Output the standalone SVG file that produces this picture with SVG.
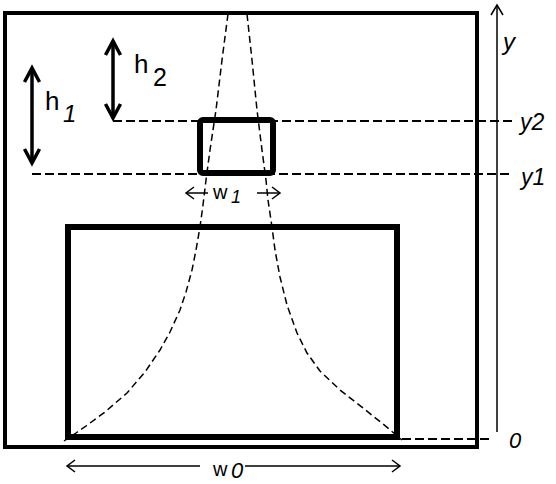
<svg xmlns="http://www.w3.org/2000/svg" width="556" height="484" viewBox="0 0 556 484">
<style>
.frame{fill:none;stroke:#000;stroke-width:4}
.box{fill:none;stroke:#000;stroke-width:6}
.hd{fill:none;stroke:#000;stroke-width:2;stroke-dasharray:9 4}
.cv{fill:none;stroke:#000;stroke-width:1.5;stroke-dasharray:7 4}
.thin{fill:none;stroke:#000;stroke-width:1.5}
.thick{fill:none;stroke:#000;stroke-width:3.5;stroke-linejoin:miter}
text{font-family:"Liberation Sans",Arial,sans-serif;fill:#000}
.it{font-style:italic}
</style>
<rect width="556" height="484" fill="#fff"/>
<g id="frame"><rect class="frame" x="5" y="13" width="472" height="434"/></g>
<g id="base-rect"><rect class="box" x="68" y="227" width="329" height="210"/></g>
<g id="top-rect"><rect class="box" x="200" y="120" width="73" height="53" rx="3"/></g>
<g id="connectors">
<polyline class="cv" points="228,14 222,60 216,110 210,150 206,180 203,205 200,227 196,250 192,270 186,292 180,310 170,332 160,350 145,372 127,393 105,412 86,426 76,433 64,441"/>
<polyline class="cv" points="247,14 252,60 257,110 262,150 266,180 268,200 272,227 275,250 280,277 287,305 297,333 307,353 320,371 340,390 363,408 383,424 402,440"/>
<line class="hd" x1="113" y1="121" x2="513" y2="121"/>
<line class="hd" x1="32" y1="174" x2="513" y2="174"/>
<line class="hd" x1="402" y1="439" x2="492" y2="439"/>
<line class="thin" x1="497" y1="5" x2="497" y2="432"/>
<polyline class="thin" points="491,15 497,5 503,15"/>
<line class="thick" x1="113" y1="42" x2="113" y2="116"/>
<polyline class="thick" points="105.5,55 113,41 120.5,55"/>
<polyline class="thick" points="105.5,104 113,118 120.5,104"/>
<line class="thick" x1="32" y1="69" x2="32" y2="161"/>
<polyline class="thick" points="24.5,82 32,68 39.5,82"/>
<polyline class="thick" points="24.5,149 32,163 39.5,149"/>
<line class="thin" x1="186" y1="193" x2="208" y2="193"/>
<polyline class="thin" points="194,187 186,193 194,199"/>
<line class="thin" x1="257" y1="193" x2="280" y2="193"/>
<polyline class="thin" points="272,187 280,193 272,199"/>
<line class="thin" x1="67" y1="466" x2="200" y2="466"/>
<line class="thin" x1="245" y1="466" x2="400" y2="466"/>
<polyline class="thin" points="75,460 67,466 75,472"/>
<polyline class="thin" points="392,460 400,466 392,472"/>
</g>
<g id="labels">
<text x="134" y="73" font-size="26">h</text>
<text x="153" y="86" font-size="25">2</text>
<text x="45" y="110" font-size="26">h</text>
<text x="63" y="122" font-size="24" class="it">1</text>
<text x="503" y="50" font-size="24" class="it">y</text>
<text x="520" y="130" font-size="23" class="it">y2</text>
<text x="521" y="185" font-size="23" class="it">y1</text>
<text x="509" y="448" font-size="22" class="it">0</text>
<text x="213" y="199" font-size="20">w</text>
<text x="231" y="203" font-size="18" class="it">1</text>
<text x="213" y="476" font-size="20">w</text>
<text x="231" y="478" font-size="22" class="it">0</text>
</g>
</svg>
